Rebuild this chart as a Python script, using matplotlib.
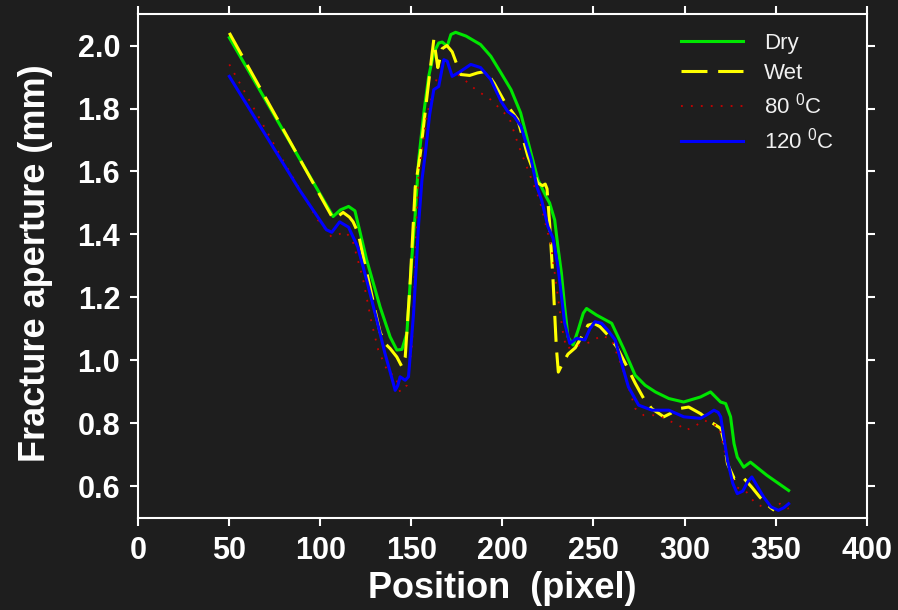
import matplotlib
matplotlib.use('Agg')
import matplotlib.pyplot as plt
import numpy as np

plt.rcParams['font.family'] = ['Liberation Sans', 'DejaVu Sans']
plt.rcParams['mathtext.fontset'] = 'custom'
plt.rcParams['mathtext.rm'] = 'Liberation Sans'

#%% data
dry_x = [50, 107, 111, 115.5, 119, 125.4, 132.8, 138.3, 142, 144.8, 147.5, 150.3, 152, 154, 156.8, 159.5,
         162.3, 165, 166.9, 169.7, 171.7, 174.3, 180, 188, 193.6, 199.2, 204.7, 210, 214.7, 219.5, 224,
         225.9, 228.7, 230.5, 232.4, 234.2, 236, 238.8, 241.6, 244.4, 246.2, 251.7, 260, 266.5, 272.9,
         278.4, 284, 291.4, 299.5, 308.8, 314.3, 319.8, 322.6, 325.3, 327.2, 329, 332.5, 336.2, 345.3, 357.2]
dry_y = [2.025, 1.457, 1.478, 1.489, 1.475, 1.32, 1.17, 1.075, 1.033, 1.035, 1.086, 1.33, 1.457, 1.637, 1.786, 1.902,
         1.977, 2.008, 2.011, 1.998, 2.035, 2.042, 2.03, 2.003, 1.966, 1.913, 1.86, 1.786, 1.68, 1.574, 1.52,
         1.50, 1.446, 1.36, 1.277, 1.17, 1.075, 1.049, 1.097, 1.15, 1.165, 1.144, 1.118, 1.038, 0.953,
         0.921, 0.90, 0.879, 0.868, 0.884, 0.90, 0.868, 0.863, 0.821, 0.736, 0.693, 0.661, 0.677, 0.635, 0.587]

wet_x = [50, 107, 109, 112.5, 116, 118, 120.8, 123.5, 127.2, 130, 132.8, 135.5, 138.3, 142, 144.8, 146.6,
         149.4, 152.1, 155, 158.6, 162.3, 164.5, 166.9, 169.5, 172.4, 177, 182, 186.3, 190.9, 195.5, 201,
         208.4, 214, 219.5, 222, 223.5, 224.5, 225.9, 227.8, 229.6, 230.7, 233, 236, 240, 244, 247, 250.5,
         253.6, 258, 262.8, 268, 273, 277.5, 282, 288.6, 294.2, 298, 302.3, 308.8, 314.4, 319.9, 321.8,
         323.6, 327.3, 331.6, 336.9, 341.5, 347, 349.3]
wet_y = [2.04, 1.45, 1.455, 1.47, 1.455, 1.44, 1.404, 1.33, 1.235, 1.16, 1.09, 1.054, 1.038, 1.011, 0.98, 1.01,
         1.256, 1.55, 1.66, 1.84, 2.019, 1.93, 1.99, 2.0, 1.98, 1.908, 1.905, 1.913, 1.918, 1.88, 1.823,
         1.765, 1.648, 1.563, 1.555, 1.56, 1.545, 1.436, 1.255, 1.043, 0.963, 0.99, 1.02, 1.04, 1.08, 1.112, 1.117,
         1.107, 1.08, 1.043, 0.985, 0.927, 0.88, 0.847, 0.821, 0.837, 0.848, 0.852, 0.831, 0.805, 0.784, 0.74,
         0.672, 0.625, 0.632, 0.598, 0.565, 0.534, 0.524]

t80_x = [50, 79.3, 98.6, 102.4, 106, 109.7, 113.4, 117.5, 123.5, 128.2, 131.8, 137.4, 141.1, 143.8, 147.5,
         150.3, 153, 154, 158.5, 164, 167.8, 172, 177, 185.3, 193.6, 203.8, 208.4, 214, 220.4, 226.8, 230.5,
         233.3, 235.1, 240, 244, 249, 254.5, 260, 265.6, 273, 277.6, 285.8, 291, 297, 300.5, 305.1, 310.7,
         315, 319, 323.6, 328.2, 333.4, 339, 343.6, 348.5, 352.5, 357.2]
t80_y = [1.94, 1.637, 1.446, 1.42, 1.393, 1.399, 1.409, 1.385, 1.256, 1.118, 1.033, 0.959, 0.953, 0.90, 0.921,
         1.043, 1.468, 1.595, 1.78, 1.897, 1.924, 1.92, 1.902, 1.86, 1.828, 1.77, 1.69, 1.605, 1.51, 1.361, 1.20,
         1.086, 1.038, 1.045, 1.05, 1.06, 1.08, 1.065, 0.98, 0.847, 0.826, 0.826, 0.81, 0.794, 0.778, 0.789, 0.81,
         0.80, 0.789, 0.672, 0.598, 0.587, 0.545, 0.534, 0.54, 0.545, 0.529]

t120_x = [50, 88.5, 103.3, 106.3, 110.6, 115.5, 120.5, 125.4, 131, 135.5, 138.5, 141.1, 142.5, 143.8, 146.6,
          148.4, 151.2, 154, 155.8, 157.7, 160, 162.3, 165, 167.8, 169.7, 172.4, 177, 182.6, 188, 193.6, 199.2,
          203, 206.5, 210.2, 215.8, 219, 221.5, 225, 227.8, 230.5, 234.2, 237, 240.7, 245.3, 248, 250.8, 254.5,
          258, 261.9, 266, 269.2, 274.8, 282.2, 291.4, 299.6, 308.8, 313, 316.2, 318.5, 319.9, 321.5, 323.6,
          326.5, 329, 332, 334.7, 337, 339.5, 343.5, 347.5, 351.6, 354.5, 357.2]
t120_y = [1.902, 1.542, 1.415, 1.407, 1.44, 1.423, 1.361, 1.256, 1.128, 1.022, 0.96, 0.905, 0.92, 0.948, 0.937,
          0.948, 1.15, 1.436, 1.574, 1.659, 1.78, 1.86, 1.87, 1.955, 1.95, 1.902, 1.918, 1.94, 1.93, 1.892, 1.823,
          1.79, 1.775, 1.743, 1.637, 1.55, 1.51, 1.425, 1.388, 1.298, 1.118, 1.054, 1.07, 1.065, 1.10, 1.123, 1.118,
          1.095, 1.065, 0.98, 0.916, 0.858, 0.842, 0.842, 0.821, 0.816, 0.83, 0.842, 0.835, 0.821, 0.76, 0.683,
          0.61, 0.577, 0.585, 0.615, 0.63, 0.605, 0.566, 0.535, 0.524, 0.532, 0.545]

x_ticks = np.arange(0, 401, 50)
y_ticks = [0.6, 0.8, 1.0, 1.2, 1.4, 1.6, 1.8, 2.0]

#%%
bg = '#1e1e1e'
fg = 'white'
fig = plt.figure(figsize=(8.98, 6.10), dpi=100, facecolor=bg)
ax = fig.add_axes([0.154, 0.151, 0.811, 0.826], facecolor=bg)

ax.plot(dry_x, dry_y, color='#00e600', lw=2.2, label='Dry')
ax.plot(wet_x, wet_y, color='#ffff00', lw=2.2, dashes=(8.5, 3.5), label='Wet')
ax.plot(t80_x, t80_y, color='#cc0000', lw=1.3, dashes=(1, 4.5), label='80 $^{0}$C')
ax.plot(t120_x, t120_y, color='#0000ff', lw=2.2, label='120 $^{0}$C')

ax.set_xlim(0, 400)
ax.set_ylim(0.5, 2.1)
ax.set_xticks(x_ticks)
ax.set_yticks(y_ticks)
ax.set_yticklabels(['%.1f' % v for v in y_ticks])

for s in ax.spines.values():
    s.set_color(fg)
    s.set_linewidth(1.5)
ax.tick_params(which='both', direction='out', length=6, width=1.5, color=fg,
               top=True, right=True, labelsize=22, labelcolor=fg, pad=7)
for lab in ax.get_xticklabels() + ax.get_yticklabels():
    lab.set_fontweight('bold')

ax.set_xlabel('Position  (pixel)', fontsize=26, fontweight='bold', color=fg)
ax.set_ylabel('Fracture aperture (mm)', fontsize=26, fontweight='bold', color=fg)
ax.xaxis.set_label_coords(0.5, -0.105)
ax.yaxis.set_label_coords(-0.117, 0.506)
ax.xaxis.label.set_va('top')

leg = ax.legend(loc='upper left', bbox_to_anchor=(0.745, 0.962), frameon=False, fontsize=16,
                handlelength=2.8, handletextpad=0.95, labelspacing=0.4, borderpad=0, borderaxespad=0)
for t in leg.get_texts():
    t.set_color('#f0f0f0')

fig.savefig('out.png', dpi=100, facecolor=bg)
